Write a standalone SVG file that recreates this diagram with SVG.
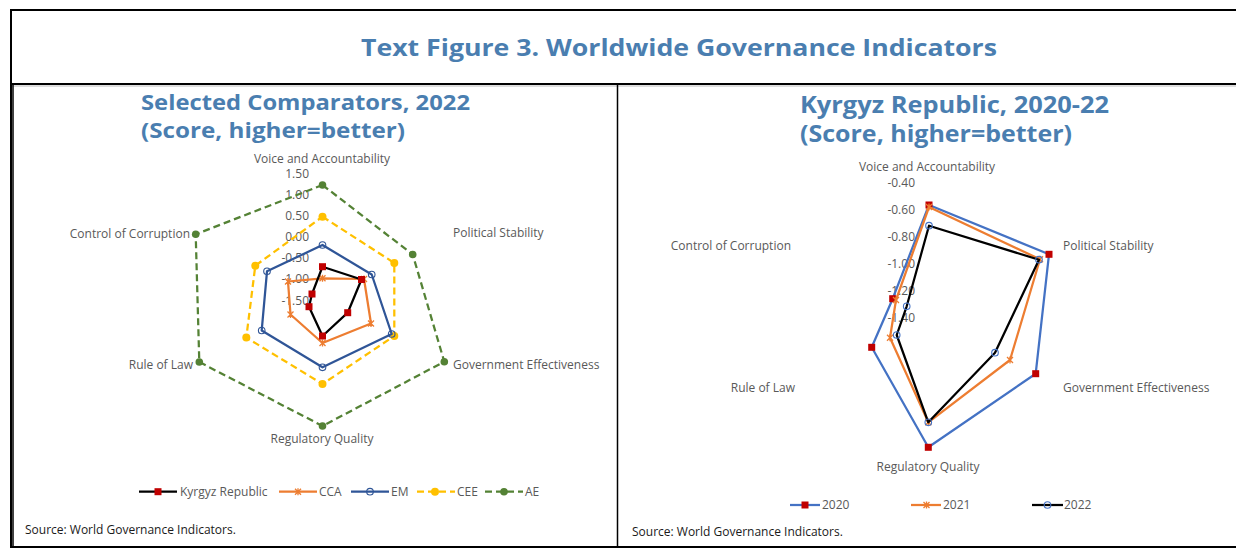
<svg xmlns="http://www.w3.org/2000/svg" width="1236" height="554" viewBox="0 0 1236 554">
<style>
.frame{stroke:#000;stroke-width:2;fill:none}
.title{font-family:"Open Sans","Noto Sans",sans-serif;font-weight:bold;fill:#4A7EB0}
.lbl{font-family:"Open Sans","Noto Sans",sans-serif;font-size:12px;fill:#595959}
.src{font-family:"Open Sans","Noto Sans",sans-serif;font-size:12px;fill:#1a1a1a}
.s{fill:none;stroke-width:2.25;stroke-linejoin:round}
.kgz{stroke:#000}
.cca{stroke:#ED7D31}
.em{stroke:#2F5597}
.cee{stroke:#FFC000;stroke-dasharray:7 4}
.ae{stroke:#548235;stroke-dasharray:7 4}
.y20{stroke:#4472C4}
.y21{stroke:#ED7D31}
.y22{stroke:#000}
</style>
<defs>
<marker id="mSq" markerUnits="userSpaceOnUse" markerWidth="10" markerHeight="10" refX="5" refY="5" overflow="visible"><rect x="1.5" y="1.5" width="7" height="7" fill="#C00000"/></marker>
<marker id="mStar" markerUnits="userSpaceOnUse" markerWidth="10" markerHeight="10" refX="5" refY="5" overflow="visible"><path d="M2,2L8,8M2,8L8,2M5,1.5V8.5" stroke="#ED7D31" stroke-width="1.3" fill="none"/></marker>
<marker id="mOcDark" markerUnits="userSpaceOnUse" markerWidth="10" markerHeight="10" refX="5" refY="5" overflow="visible"><circle cx="5" cy="5" r="3.3" fill="none" stroke="#2F5597" stroke-width="1.1"/></marker>
<marker id="mOcBlue" markerUnits="userSpaceOnUse" markerWidth="10" markerHeight="10" refX="5" refY="5" overflow="visible"><circle cx="5" cy="5" r="3.3" fill="none" stroke="#4472C4" stroke-width="1.1"/></marker>
<marker id="mYel" markerUnits="userSpaceOnUse" markerWidth="10" markerHeight="10" refX="5" refY="5" overflow="visible"><circle cx="5" cy="5" r="4" fill="#FFC000"/></marker>
<marker id="mGrn" markerUnits="userSpaceOnUse" markerWidth="10" markerHeight="10" refX="5" refY="5" overflow="visible"><circle cx="5" cy="5" r="3.8" fill="#548235"/></marker>
</defs>
<rect width="1236" height="554" fill="#fff"/>

<g id="frame">
<line class="frame" x1="10" y1="10" x2="1236" y2="10"/>
<line class="frame" x1="11" y1="9" x2="11" y2="548"/>
<line class="frame" x1="10" y1="84" x2="1236" y2="84"/>
<line x1="12" y1="86" x2="1236" y2="86" stroke="#bbb" stroke-width="1"/>
<line x1="13" y1="85" x2="13" y2="547" stroke="#000" stroke-width="1.5"/>
<line x1="617.5" y1="85" x2="617.5" y2="547" stroke="#000" stroke-width="1.5"/>
<line class="frame" x1="10" y1="547" x2="1236" y2="547"/>
</g>

<g id="main-title">
<text class="title" x="361" y="56" font-size="24" textLength="636" lengthAdjust="spacingAndGlyphs">Text Figure 3. Worldwide Governance Indicators</text>
</g>

<g id="left-chart">
<text class="title" x="141" y="110" font-size="21.5" textLength="329" lengthAdjust="spacingAndGlyphs">Selected Comparators, 2022</text>
<text class="title" x="141" y="138" font-size="21.5" textLength="264" lengthAdjust="spacingAndGlyphs">(Score, higher=better)</text>
<g id="left-axis-labels" class="lbl">
<text x="322" y="163" text-anchor="middle">Voice and Accountability</text>
<text x="453" y="237">Political Stability</text>
<text x="453" y="369">Government Effectiveness</text>
<text x="322" y="443" text-anchor="middle">Regulatory Quality</text>
<text x="193" y="369" text-anchor="end">Rule of Law</text>
<text x="190" y="238" text-anchor="end">Control of Corruption</text>
<g text-anchor="end">
<text x="309" y="178">1.50</text>
<text x="309" y="199">1.00</text>
<text x="309" y="220">0.50</text>
<text x="309" y="241">0.00</text>
<text x="309" y="262">-0.50</text>
<text x="309" y="283">-1.00</text>
<text x="309" y="305">-1.50</text>
</g>
</g>
<g id="left-series">
<polygon id="s-ae" class="s ae" points="322.5,185 412.7,254.5 444.3,361.7 322.5,426 199.3,362 195.7,234.3" marker-start="url(#mGrn)" marker-mid="url(#mGrn)"/>
<polygon id="s-cee" class="s cee" points="322.5,216.7 394.3,263 394.3,336 322.5,384 246.3,337.6 255.3,265.7" marker-start="url(#mYel)" marker-mid="url(#mYel)"/>
<polygon id="s-em" class="s em" points="322.5,245 371.7,274.5 391.7,334 322.5,367.3 261.7,330.5 267,271.3" marker-start="url(#mOcDark)" marker-mid="url(#mOcDark)"/>
<polygon id="s-cca" class="s cca" points="322.5,278.3 364,279 371,323.5 322.5,343 290.5,314.5 288,281.5" marker-start="url(#mStar)" marker-mid="url(#mStar)"/>
<polygon id="s-kgz" class="s kgz" points="322.5,266.7 361.5,279.5 347.7,312.7 322.5,336 309,306.7 312,294" marker-start="url(#mSq)" marker-mid="url(#mSq)"/>
</g>
<g id="left-legend" class="lbl" font-size="12">
<polyline class="s kgz" points="139,491.7 158,491.7 177,491.7" marker-mid="url(#mSq)"/>
<text x="180" y="496">Kyrgyz Republic</text>
<polyline class="s cca" points="279,491.7 298,491.7 317,491.7" marker-mid="url(#mStar)"/>
<text x="319" y="496">CCA</text>
<polyline class="s em" points="351,491.7 370,491.7 389,491.7" marker-mid="url(#mOcDark)"/>
<text x="391" y="496">EM</text>
<polyline class="s cee" points="417,491.7 435,491.7 455,491.7" stroke-dasharray="5 4" marker-mid="url(#mYel)"/>
<text x="457" y="496">CEE</text>
<polyline class="s ae" points="485,491.7 504,491.7 523,491.7" stroke-dasharray="5 4" marker-mid="url(#mGrn)"/>
<text x="525" y="496">AE</text>
</g>
<text class="src" x="25" y="534">Source: World Governance Indicators.</text>
</g>

<g id="right-chart">
<text class="title" x="800" y="113" font-size="23" textLength="309" lengthAdjust="spacingAndGlyphs">Kyrgyz Republic, 2020-22</text>
<text class="title" x="800" y="142" font-size="23" textLength="272" lengthAdjust="spacingAndGlyphs">(Score, higher=better)</text>
<g id="right-axis-labels" class="lbl">
<text x="927" y="171" text-anchor="middle">Voice and Accountability</text>
<text x="1063" y="250">Political Stability</text>
<text x="1063" y="392">Government Effectiveness</text>
<text x="928" y="471" text-anchor="middle">Regulatory Quality</text>
<text x="795" y="392" text-anchor="end">Rule of Law</text>
<text x="791" y="250" text-anchor="end">Control of Corruption</text>
<g text-anchor="end">
<text x="915" y="187">-0.40</text>
<text x="915" y="214">-0.60</text>
<text x="915" y="241">-0.80</text>
<text x="915" y="268">-1.00</text>
<text x="915" y="295">-1.20</text>
<text x="915" y="322">-1.40</text>
</g>
</g>
<g id="right-series">
<polygon id="s-2020" class="s y20" points="929,205 1049,254.3 1035.7,373.7 928.3,447.3 871.7,347.3 892.7,298.7" marker-start="url(#mSq)" marker-mid="url(#mSq)"/>
<polygon id="s-2021" class="s y21" points="929,207 1040,259.3 1010,360 928.3,422.3 890,337.7 896,300" marker-start="url(#mStar)" marker-mid="url(#mStar)"/>
<polygon id="s-2022" class="s y22" points="929,225.7 1039,259.7 995,352.7 928.3,422.3 896.7,335 906.7,306.3" marker-start="url(#mOcBlue)" marker-mid="url(#mOcBlue)"/>
</g>
<g id="right-legend" class="lbl">
<polyline class="s y20" points="790,505 805,505 820,505" marker-mid="url(#mSq)"/>
<text x="822" y="509">2020</text>
<polyline class="s y21" points="911,505 926.5,505 941,505" marker-mid="url(#mStar)"/>
<text x="943" y="509">2021</text>
<polyline class="s y22" points="1032,505 1047.5,505 1063,505" marker-mid="url(#mOcBlue)"/>
<text x="1064" y="509">2022</text>
</g>
<text class="src" x="632" y="536">Source: World Governance Indicators.</text>
</g>
</svg>
